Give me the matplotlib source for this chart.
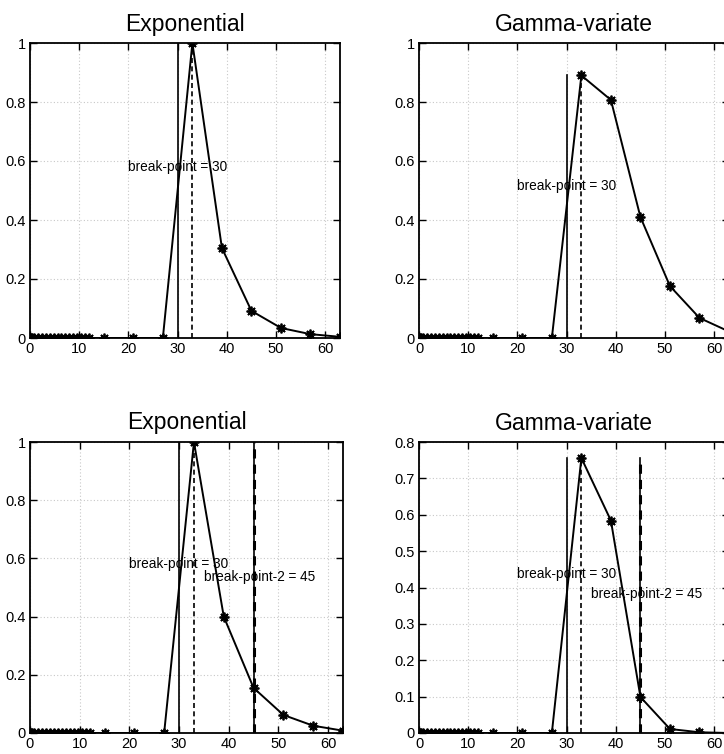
import numpy as np
import matplotlib
matplotlib.use("Agg")
from matplotlib import pyplot as plt
from matplotlib.ticker import FormatStrFormatter

# sample times: dense early sampling, then every 6 s
t = [0, 0.2, 0.4, 0.8, 1.6, 2.4, 3.2, 4.0, 4.8, 5.6, 6.4, 7.2, 8.0, 8.8, 9.6,
     10.4, 11.2, 12.0, 15, 21, 27, 33, 39, 45, 51, 57, 63]
n_zero = 21  # points before the bolus arrives

exp_1 = [0.0] * n_zero + [1.0, 0.305, 0.092, 0.034, 0.013, 0.004]
gam_1 = [0.0] * n_zero + [0.89, 0.807, 0.41, 0.176, 0.068, 0.022]
exp_2 = [0.0] * n_zero + [1.0, 0.40, 0.155, 0.062, 0.025, 0.008]
gam_2 = [0.0] * n_zero + [0.756, 0.584, 0.099, 0.011, 0.002, 0.0]

titles = ["Exponential", "Gamma-variate", "Exponential", "Gamma-variate"]
curves = [exp_1, gam_1, exp_2, gam_2]
break1 = 30
break2 = [None, None, 45, 45]
label2_y = [None, None, 0.536, 0.382]
peak_t = 33
ylims = [1, 1, 1, 0.8]
ystep = [0.2, 0.2, 0.2, 0.1]

W, H = 724, 754
fig = plt.figure(figsize=(W / 100, H / 100), dpi=100)
fig.patch.set_facecolor("white")

boxes = [(30, 43, 310, 295), (419, 43, 310, 295),
         (30, 442, 313, 291), (419, 442, 310, 291)]

font = ["Liberation Sans", "DejaVu Sans"]
ast = (8, 2, 0)

for i in range(4):
    x0, y0, w, h = boxes[i]
    ax = fig.add_axes([x0 / W, 1 - (y0 + h) / H, w / W, h / H])
    y = np.array(curves[i])
    peak = y.max()

    ax.plot(t, y, color="black", lw=1.4, marker=ast, ms=7, mew=1.3)
    ax.plot([break1, break1], [0, peak], color="black", lw=1.2)
    ax.plot([peak_t, peak_t], [0, peak], color="black", lw=1.2,
            dashes=(3, 2))
    ax.text(20, 0.58 * peak, "break-point = %d" % break1, fontsize=9.8,
            family=font, va="center", ha="left")
    if break2[i] is not None:
        b2 = break2[i]
        ax.plot([b2, b2], [0, peak], color="black", lw=1.2)
        ax.plot([b2, b2], [0, peak], color="black", lw=2.2, dashes=(3, 2))
        ax.text(35, label2_y[i], "break-point-2 = %d" % b2, fontsize=9.8,
                family=font, va="center", ha="left")

    ax.set_xlim(0, 63)
    ax.set_ylim(0, ylims[i])
    ax.set_xticks(np.arange(0, 61, 10))
    ax.set_yticks(np.arange(0, ylims[i] + 1e-9, ystep[i]))
    ax.yaxis.set_major_formatter(FormatStrFormatter("%g"))
    ax.tick_params(direction="in", length=5, width=1, top=True, right=True,
                   labelsize=10.5, pad=3)
    for lab in ax.get_xticklabels() + ax.get_yticklabels():
        lab.set_family(font)
    ax.grid(True, color="#c8c8c8", lw=0.8, linestyle=(0, (1, 2)))
    for s in ax.spines.values():
        s.set_linewidth(1.3)
    ax.set_title(titles[i], fontsize=16.5, family=font, pad=9)

fig.savefig("out.png", dpi=100)
